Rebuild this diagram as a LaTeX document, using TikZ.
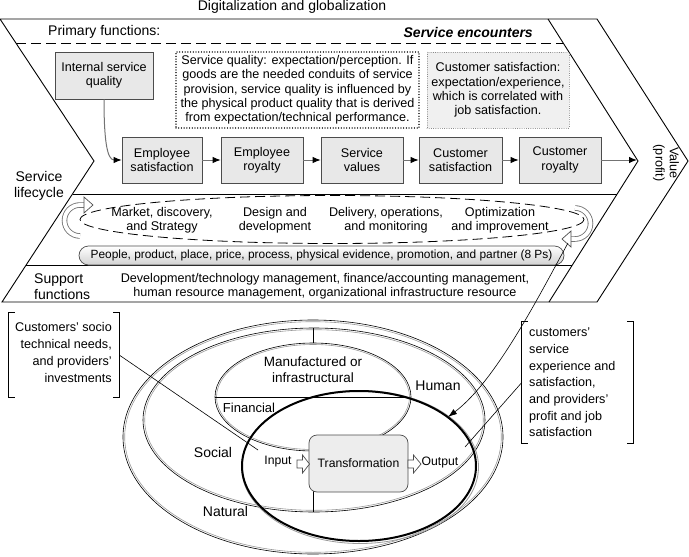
\documentclass[tikz,border=0pt]{standalone}
\usepackage{fontspec}
\setmainfont{Liberation Sans}
\usetikzlibrary{arrows.meta,calc}
\begin{document}
\begin{tikzpicture}[x=1pt,y=-1pt,
  txt/.style={font=\fontsize{12.6}{14.3}\selectfont, align=center, inner sep=0pt},
  big/.style={font=\fontsize{14}{16}\selectfont, inner sep=0pt},
  frame/.style={line width=0.9pt, draw=black},
  fbox/.style={draw=black!70, line width=0.7pt, fill=black!9, align=center, inner sep=1pt, font=\fontsize{12.6}{14.3}\selectfont},
  flow/.style={draw=black!55, line width=1pt, -{Latex[color=black,length=8pt,width=6.5pt]}},
  ring/.style={draw=black, line width=0.6pt},
  ringsh/.style={draw=black!40, line width=0.6pt},
  brk/.style={draw=black, line width=0.7pt},
  hollow/.style={draw=black!70, fill=white, line width=0.7pt, line join=miter},
  lbl/.style={font=\fontsize{14}{16}\selectfont, inner sep=0pt, align=center},
]
\useasboundingbox (0,0) rectangle (689,557);

% ---------- title ----------
\node[big] (title) at (292,7) {Digitalization and globalization};

% ---------- chevron frame ----------
\draw[frame] (0,19) -- (597,19) -- (688,161) -- (597,302) -- (2,302) -- (94,161) -- cycle;
\draw[frame] (548,19) -- (638,161) -- (549,302);
\draw[frame, dash pattern=on 10pt off 5pt] (16,43) -- (563,43);
\draw[frame] (72.5,194) -- (617,194);
\draw[frame] (26,265) -- (572,265);

\node[big, anchor=west] (pf) at (48,32) {Primary functions:};
\node[big, anchor=east, font=\fontsize{14}{16}\selectfont\bfseries\itshape] (se) at (533,32) {Service encounters};

% ---------- primary functions ----------
\node[fbox, minimum width=98, minimum height=47] (isq) at (104,75.5) {Internal service\\quality};
\node[txt, draw=black!85, line width=1.3pt, dash pattern=on 0.01pt off 2.7pt, line cap=round, fill=white,
      minimum width=243, minimum height=76] (sq) at (297.5,90)
  {Service quality: expectation/perception. If\\goods are the needed conduits of service\\provision, service quality is influenced by\\the physical product quality that is derived\\from expectation/technical performance.};
\node[txt, draw=black!55, line width=0.9pt, dash pattern=on 0.01pt off 2.2pt, line cap=round, fill=black!6,
      minimum width=142, minimum height=76] (cs) at (498,90)
  {Customer satisfaction:\\expectation/experience,\\which is correlated with\\job satisfaction.};

\node[fbox, minimum width=80, minimum height=46] (es) at (162,160) {Employee\\satisfaction};
\node[fbox, minimum width=82, minimum height=46] (er) at (262,160) {Employee\\royalty};
\node[fbox, minimum width=82, minimum height=46] (sv) at (362,160) {Service\\values};
\node[fbox, minimum width=83, minimum height=46] (cus) at (460.5,160) {Customer\\satisfaction};
\node[fbox, minimum width=82, minimum height=46] (cr) at (560,160) {Customer\\royalty};
\coordinate (vtip) at (637,160);

\draw[flow] (isq.south) .. controls (104,140) and (107,160) .. (es.west);
\draw[flow] (es) -- (er);
\draw[flow] (er) -- (sv);
\draw[flow] (sv) -- (cus);
\draw[flow] (cus) -- (cr);
\draw[flow] (cr) -- (vtip);

\node[txt, rotate=-90] (val) at (666,163) {Value\\(profit)};
\node[big, align=center] (sl) at (39,186) {Service\\lifecycle};

% ---------- service lifecycle band ----------
\draw[line width=0.8pt, dash pattern=on 10pt off 5pt] (332,219.5) ellipse [x radius=252, y radius=24];

\node[txt] (m1) at (162,220.5) {Market, discovery,\\and Strategy};
\node[txt] (m2) at (275,220.5) {Design and\\development};
\node[txt] (m3) at (386,220.5) {Delivery, operations,\\and monitoring};
\node[txt] (m4) at (500,220.5) {Optimization\\and improvement};

% left loop arrow
\draw[line width=5.5pt, black!55] (80,236) arc[start angle=90, end angle=270, radius=15.5] -- ++(4,0);
\draw[line width=3.8pt, white] (80,236) arc[start angle=90, end angle=270, radius=15.5] -- ++(4.5,0);
\draw[hollow] (84,197) -- (93,205) -- (84,213) -- cycle;
% right loop arrow
\draw[line width=5.5pt, black!55] (575,208) arc[start angle=270, end angle=450, radius=15.5] -- ++(-4,0);
\draw[line width=3.8pt, white] (575,208) arc[start angle=270, end angle=450, radius=15.5] -- ++(-4.5,0);
\draw[hollow] (571,231) -- (562,239) -- (571,247) -- cycle;

\node[draw=black!70, line width=0.7pt, rounded corners=9.5pt, top color=white, bottom color=black!18,
      minimum width=485, minimum height=19, inner sep=0pt, font=\fontsize{11.9}{14}\selectfont] (ps) at (321.5,255.5)
  {People, product, place, price, process, physical evidence, promotion, and partner (8 Ps)};

% ---------- support functions ----------
\node[big, align=left, anchor=west] (sf) at (34,287) {Support\\functions};
\node[txt] (sfx) at (325,286.5) {Development/technology management, finance/accounting management,\\human resource management, organizational infrastructure resource};

% ---------- capitals ellipses ----------
\draw[ringsh] (313,437) ellipse [x radius=188.3, y radius=115.3];
\draw[ring] (313,437) ellipse [x radius=190, y radius=117];
\draw[ringsh] (314,420) ellipse [x radius=169.3, y radius=90.3];
\draw[ring] (314,420) ellipse [x radius=171, y radius=92];
\draw[ringsh] (313,397) ellipse [x radius=96.5, y radius=52.5];
\draw[ring] (313,397) ellipse [x radius=98, y radius=54];
\draw[ring] (215,397) -- (411,397);
\draw[ring] (313,328) -- (313,343);
\draw[ring] (313,490) -- (313,512);

% system boundary
\draw[draw=black!40, line width=0.8pt] (360,467) ellipse [x radius=118.5, y radius=76.5];
\draw[line width=2pt] (359,466) ellipse [x radius=117, y radius=75];

% transformation
\node[draw=black!70, line width=0.7pt, rounded corners=8pt, fill=black!7,
      minimum width=99, minimum height=57, inner sep=0pt, font=\fontsize{12.2}{14}\selectfont] (tr) at (358.5,463.5) {Transformation};
\draw[hollow] (297,460) -- (302.5,460) -- (302.5,455) -- (309.5,464) -- (302.5,473) -- (302.5,468) -- (297,468) -- cycle;
\draw[hollow] (408,460) -- (413.5,460) -- (413.5,455) -- (421,464) -- (413.5,473) -- (413.5,468) -- (408,468) -- cycle;
\node[txt, font=\fontsize{12.2}{14}\selectfont] (inp) at (278,462) {Input};
\node[txt, font=\fontsize{12.2}{14}\selectfont] (outp) at (440,463) {Output};

\node[lbl, font=\fontsize{13.5}{16}\selectfont] (man) at (313,370) {Manufactured or\\infrastructural};
\node[lbl, font=\fontsize{13}{15}\selectfont] (fin) at (249,408) {Financial};
\node[lbl] (hum) at (438,386) {Human};
\node[lbl] (soc) at (213,452) {Social};
\node[lbl] (nat) at (225.5,511) {Natural};

% ---------- brackets ----------
\node[minimum width=110, minimum height=84, inner sep=0pt] (lbk) at (64,355) {};
\draw[brk] ($(lbk.north west)+(6,0)$) -- (lbk.north west) -- (lbk.south west) -- ($(lbk.south west)+(6,0)$);
\draw[brk] ($(lbk.north east)+(-6,0)$) -- (lbk.north east) -- (lbk.south east) -- ($(lbk.south east)+(-6,0)$);
\node[font=\fontsize{12.6}{16.7}\selectfont, align=right, anchor=east, inner sep=0pt] (lbt) at (112,352.5)
  {Customers' socio\\technical needs,\\and providers'\\investments};

\node[minimum width=111, minimum height=121, inner sep=0pt] (rbk) at (577.5,382.5) {};
\draw[brk] ($(rbk.north west)+(6,0)$) -- (rbk.north west) -- (rbk.south west) -- ($(rbk.south west)+(6,0)$);
\draw[brk] ($(rbk.north east)+(-6,0)$) -- (rbk.north east) -- (rbk.south east) -- ($(rbk.south east)+(-6,0)$);
\node[font=\fontsize{12.6}{16.7}\selectfont, align=left, anchor=west, inner sep=0pt] (rbt) at (529,382.5)
  {customers'\\service\\experience and\\satisfaction,\\and providers'\\profit and job\\satisfaction};

% ---------- connectors ----------
\coordinate (inend) at (258,450);
\coordinate (outend) at (465,447);
\coordinate (loopend) at (568,243);
\coordinate (bnd) at (448,417);
\draw[line width=0.6pt] (lbk.east) -- (inend);
\draw[line width=0.6pt] (rbk.west) -- (outend);
\draw[line width=0.6pt, -{Latex[length=9pt,width=6pt]}] (loopend) .. controls (542,290) and (497,380) .. (bnd);
\end{tikzpicture}
\end{document}
